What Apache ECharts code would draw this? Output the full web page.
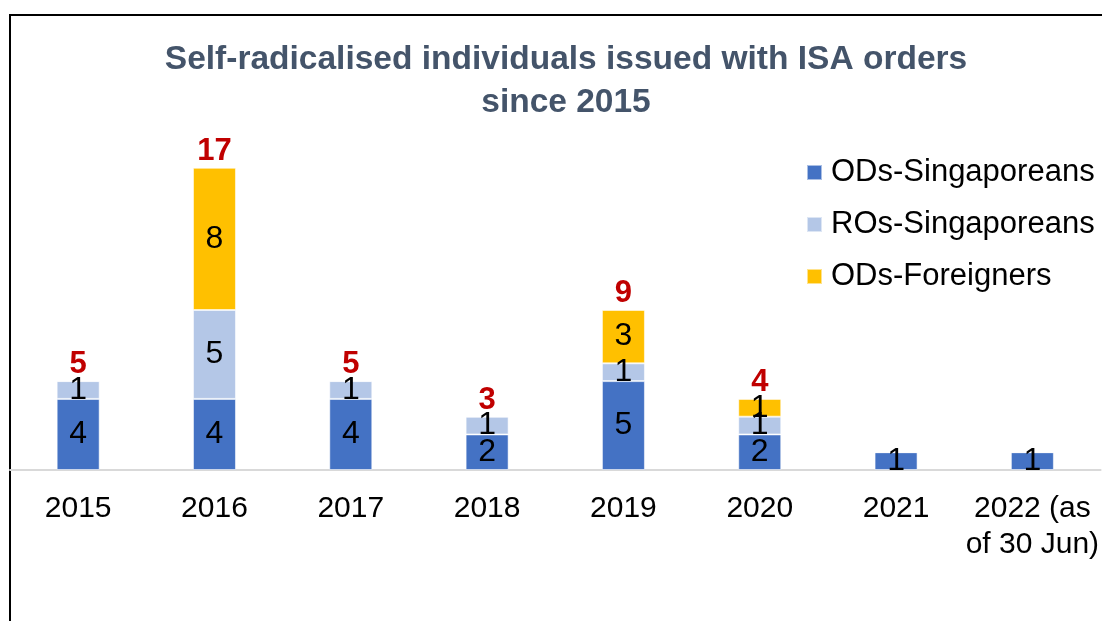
<!DOCTYPE html>
<html>
<head>
<meta charset="utf-8">
<script src="https://cdn.jsdelivr.net/npm/echarts@6/dist/echarts.min.js"></script>
<style>
  html, body { margin: 0; padding: 0; background: #fff; }
  #main { width: 1102px; height: 621px; }
</style>
</head>
<body>
<div id="main"></div>
<script>
var years = ['2015', '2016', '2017', '2018', '2019', '2020', '2021', '2022 (as\nof 30 Jun)'];
var odsSingaporeans = [4, 4, 4, 2, 5, 2, 1, 1];
var rosSingaporeans = [1, 5, 1, 1, 1, 1, 0, 0];
var odsForeigners = [0, 8, 0, 0, 3, 1, 0, 0];
// totals shown in red above the bars (none shown for 2021 / 2022)
var totals = [5, 17, 5, 3, 9, 4, null, null];

var font = 'Liberation Sans, Arial, sans-serif';

function segLabel(p) {
    return p.value ? p.value : '';
}

function barSeries(name, data, color) {
    return {
        name: name,
        type: 'bar',
        stack: 'all',
        barWidth: 43,
        data: data,
        itemStyle: { color: color, borderColor: 'rgba(255,255,255,0.55)', borderWidth: 1 },
        label: {
            show: true,
            position: 'inside',
            formatter: segLabel,
            color: '#000',
            fontSize: 32,
            fontFamily: font,
            textBorderWidth: 0
        }
    };
}

var myChart = echarts.init(document.getElementById('main'));
myChart.setOption({
    animation: false,
    title: {
        text: 'Self-radicalised individuals issued with ISA orders\nsince 2015',
        left: 561,
        top: 33,
        textAlign: 'center',
        textStyle: {
            color: '#44546a',
            fontSize: 33.5,
            fontWeight: 'bold',
            fontFamily: font,
            lineHeight: 43
        }
    },
    legend: {
        data: ['ODs-Singaporeans', 'ROs-Singaporeans', 'ODs-Foreigners'],
        orient: 'vertical',
        left: 801,
        top: 152,
        icon: 'rect',
        itemWidth: 15,
        itemHeight: 15,
        itemGap: 21,
        textStyle: {
            color: '#000',
            fontSize: 31,
            fontFamily: font,
            lineHeight: 31,
            padding: [0, 0, 0, 4]
        }
    },
    graphic: [{
        type: 'polyline',
        shape: { points: [[10, 621], [10, 15], [1102, 15]] },
        style: { stroke: '#000', lineWidth: 2, fill: null }
    }],
    grid: { left: 10, right: 0, top: 150, bottom: 151 },
    xAxis: {
        type: 'category',
        data: years,
        axisTick: { show: false },
        axisLine: { lineStyle: { color: '#d9d9d9', width: 2 } },
        axisLabel: {
            color: '#000',
            fontSize: 30,
            fontFamily: font,
            lineHeight: 36,
            margin: 21,
            interval: 0
        }
    },
    yAxis: {
        type: 'value',
        min: 0,
        max: 18,
        show: false,
        splitLine: { show: false }
    },
    series: [
        barSeries('ODs-Singaporeans', odsSingaporeans, '#4472c4'),
        barSeries('ROs-Singaporeans', rosSingaporeans, '#b4c7e7'),
        barSeries('ODs-Foreigners', odsForeigners, '#ffc000'),
        {
            name: 'Total',
            type: 'scatter',
            data: totals,
            symbolSize: 0,
            z: 5,
            itemStyle: { opacity: 1 },
            label: {
                show: true,
                position: 'top',
                distance: 1,
                color: '#c00000',
                fontSize: 31,
                fontWeight: 'bold',
                fontFamily: font,
                textBorderWidth: 0
            }
        }
    ]
});
</script>
</body>
</html>
